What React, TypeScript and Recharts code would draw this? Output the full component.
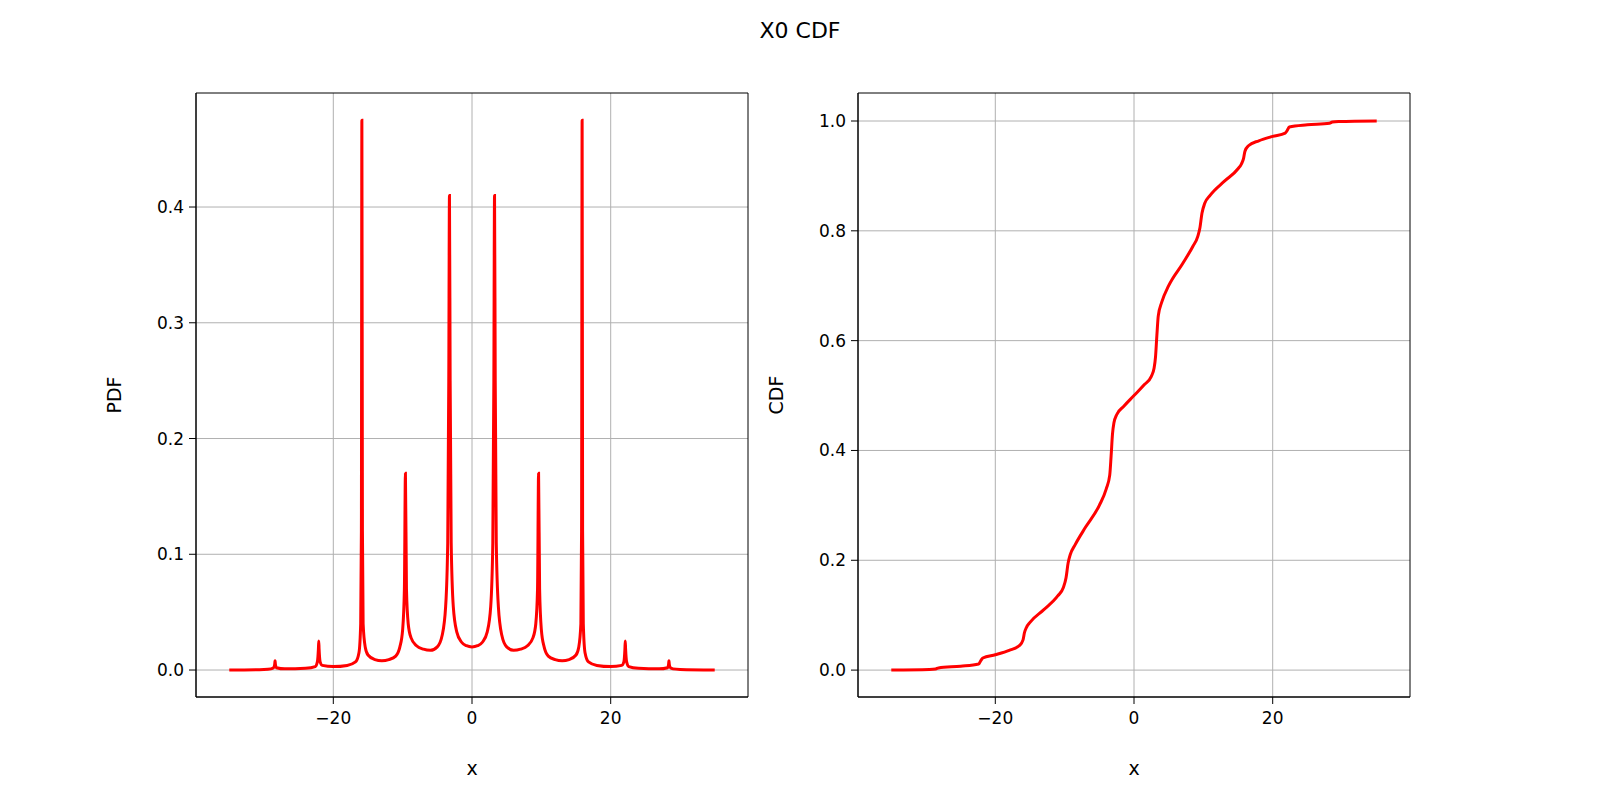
import React from 'react';
import { LineChart, Line, XAxis, YAxis, CartesianGrid, ReferenceArea } from 'recharts';

const pdfX = [-35, -30, -29, -28.6, -28.45, -28.4, -28.35, -28.2, -27, -24, -22.6, -22.3, -22.15, -22.1, -22.05, -21.9, -21.6, -20, -18, -16.8, -16.3, -16.05, -15.95, -15.88, -15.8, -15.7, -15.4, -15, -14, -13, -12, -11, -10.4, -10, -9.75, -9.6, -9.45, -9.2, -8.8, -8, -7, -6, -5, -4.3, -3.8, -3.5, -3.35, -3.25, -3.15, -3.0, -2.7, -2.2, -1.5, -0.8, 0,
  0.8, 1.5, 2.2, 2.7, 3.0, 3.15, 3.25, 3.35, 3.5, 3.8, 4.3, 5, 6, 7, 8, 8.8, 9.2, 9.45, 9.6, 9.75, 10, 10.4, 11, 12, 13, 14, 15, 15.4, 15.7, 15.8, 15.88, 15.95, 16.05, 16.3, 16.8, 18, 20, 21.6, 21.9, 22.05, 22.1, 22.15, 22.3, 22.6, 24, 27, 28.2, 28.35, 28.4, 28.45, 28.6, 29, 30, 35];
const pdfY = [0, 0.0005, 0.001, 0.002, 0.005, 0.008, 0.005, 0.002, 0.001, 0.0015, 0.003, 0.007, 0.018, 0.025, 0.018, 0.007, 0.004, 0.003, 0.004, 0.007, 0.015, 0.04, 0.12, 0.475, 0.12, 0.04, 0.02, 0.013, 0.009, 0.008, 0.009, 0.012, 0.02, 0.035, 0.07, 0.17, 0.07, 0.04, 0.028, 0.021, 0.018, 0.017, 0.02, 0.03, 0.055, 0.11, 0.25, 0.41, 0.25, 0.11, 0.055, 0.033, 0.024, 0.021, 0.02,
  0.021, 0.024, 0.033, 0.055, 0.11, 0.25, 0.41, 0.25, 0.11, 0.055, 0.03, 0.02, 0.017, 0.018, 0.021, 0.028, 0.04, 0.07, 0.17, 0.07, 0.035, 0.02, 0.012, 0.009, 0.008, 0.009, 0.013, 0.02, 0.04, 0.12, 0.475, 0.12, 0.04, 0.015, 0.007, 0.004, 0.003, 0.004, 0.007, 0.018, 0.025, 0.018, 0.007, 0.003, 0.0015, 0.001, 0.002, 0.005, 0.008, 0.005, 0.002, 0.001, 0.0005, 0];

const cdfX = [-35, -29.5, -28.6, -28.2, -25, -22.4, -22.1, -21.8, -20, -18, -16.5, -16.0, -15.8, -15.5, -15, -13, -11, -10.2, -9.8, -9.5, -9.2, -8.5, -7, -5, -4, -3.5, -3.3, -3.1, -2.9, -2.5, -1.5, 0,
  1.5, 2.5, 2.9, 3.1, 3.3, 3.5, 4, 5, 7, 8.5, 9.2, 9.5, 9.8, 10.2, 11, 13, 15, 15.5, 15.8, 16.0, 16.5, 18, 20, 21.8, 22.1, 22.4, 25, 28.2, 28.6, 29.5, 35];
const cdfY = [0, 0.001, 0.002, 0.004, 0.007, 0.011, 0.017, 0.022, 0.028, 0.036, 0.045, 0.055, 0.068, 0.078, 0.087, 0.11, 0.135, 0.15, 0.168, 0.195, 0.21, 0.228, 0.26, 0.3, 0.33, 0.355, 0.39, 0.43, 0.45, 0.465, 0.48, 0.5,
  0.52, 0.535, 0.55, 0.57, 0.61, 0.645, 0.67, 0.7, 0.74, 0.772, 0.79, 0.805, 0.832, 0.85, 0.865, 0.89, 0.913, 0.922, 0.932, 0.945, 0.955, 0.964, 0.972, 0.978, 0.983, 0.989, 0.993, 0.996, 0.998, 0.999, 1.0];

const pdfData = pdfX.map((x, i) => ({ x, y: pdfY[i] }));
const cdfData = cdfX.map((x, i) => ({ x, y: cdfY[i] }));

const font = { fontFamily: 'DejaVu Sans', fontSize: 17, fill: '#000' };
const fmt = (v: number) => (v < 0 ? '\u2212' + Math.abs(v) : String(v));

function Panel({ data, left, margin, yDomain, yTicks, yLabel }: any) {
  return (
    <div style={{ position: 'absolute', left, top: 0 }}>
      <LineChart width={800} height={800} data={data} margin={margin}>
        <CartesianGrid stroke="#b0b0b0" verticalValues={[-20, 0, 20]} horizontalValues={yTicks} />
        <XAxis dataKey="x" type="number" domain={[-39.8, 39.8]} ticks={[-20, 0, 20]} tickFormatter={fmt}
          tick={font} tickSize={7} tickMargin={8} tickLine={{ stroke: '#000' }} axisLine={{ stroke: '#000' }} height={80}
          label={{ value: 'x', position: 'insideBottom', offset: 2, style: { ...font, fontSize: 19 } }} />
        <YAxis type="number" domain={yDomain} ticks={yTicks} allowDataOverflow width={90}
          tickFormatter={(v: number) => v.toFixed(1)} tick={font} tickSize={7} tickMargin={5}
          tickLine={{ stroke: '#000' }} axisLine={{ stroke: '#000' }}
          label={{ value: yLabel, angle: -90, position: 'insideLeft', offset: 8, style: { ...font, fontSize: 19, textAnchor: 'middle' } }} />
        <ReferenceArea x1={-39.8} x2={39.8} y1={yDomain[0]} y2={yDomain[1]} fill="none" stroke="#000" strokeOpacity={1} ifOverflow="visible" />
        <Line type="monotone" dataKey="y" stroke="#ff0000" strokeWidth={3} dot={false} isAnimationActive={false} />
      </LineChart>
    </div>
  );
}

export default function App() {
  return (
    <div style={{ position: 'absolute', left: 0, top: 0, width: 1600, height: 800, background: '#fff' }}>
      <div style={{ position: 'absolute', top: 18, width: 1600, textAlign: 'center', fontFamily: 'DejaVu Sans', fontSize: 22 }}>X0 CDF</div>
      <Panel data={pdfData} left={0} margin={{ top: 93, right: 52, left: 106, bottom: 23 }}
        yDomain={[-0.0233, 0.4985]} yTicks={[0, 0.1, 0.2, 0.3, 0.4]} yLabel="PDF" />
      <Panel data={cdfData} left={700} margin={{ top: 93, right: 90, left: 68, bottom: 23 }}
        yDomain={[-0.049, 1.051]} yTicks={[0, 0.2, 0.4, 0.6, 0.8, 1.0]} yLabel="CDF" />
    </div>
  );
}
